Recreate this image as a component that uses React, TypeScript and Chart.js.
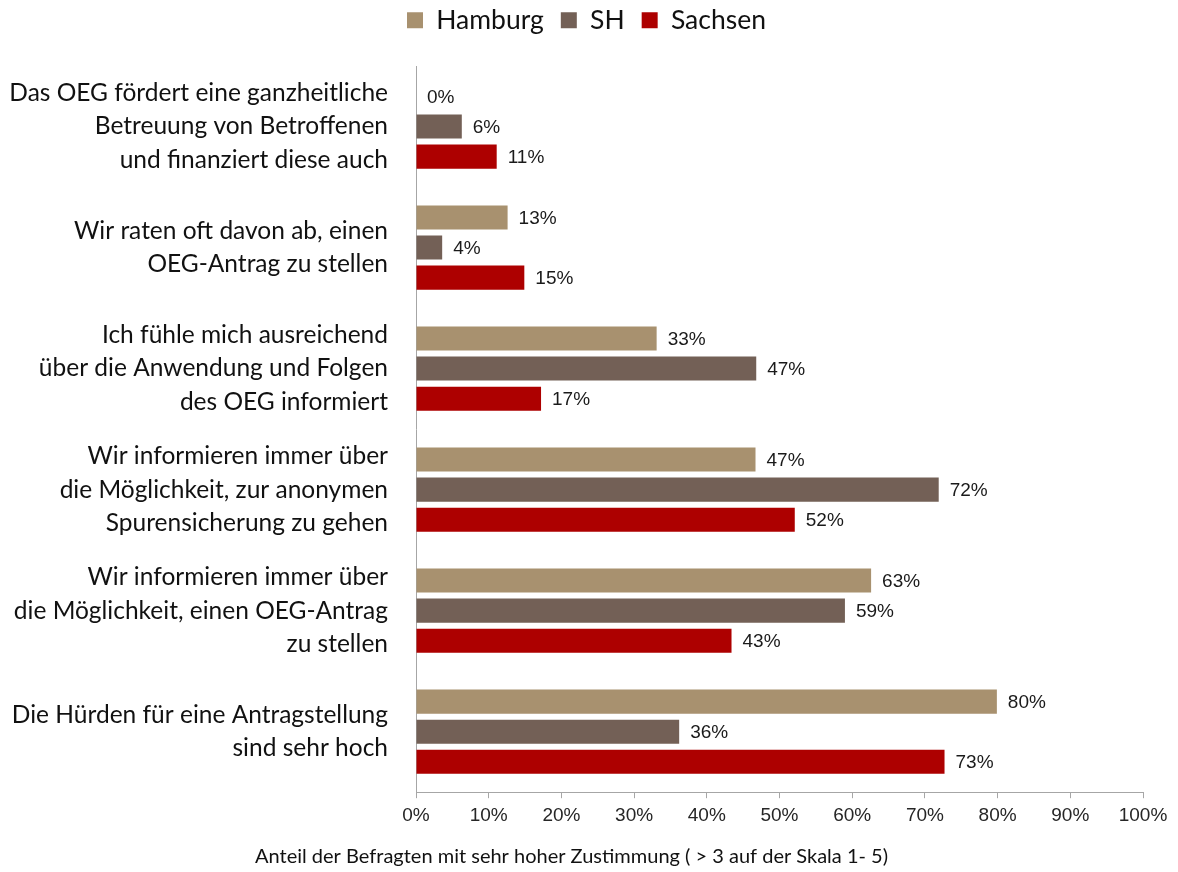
import React, { useEffect, useRef } from "react";
import { Chart, registerables } from "chart.js";

Chart.register(...registerables);

const categories: string[][] = [
  ["Das OEG fördert eine ganzheitliche", "Betreuung von Betroffenen", "und finanziert diese auch"],
  ["Wir raten oft davon ab, einen", "OEG-Antrag zu stellen"],
  ["Ich fühle mich ausreichend", "über die Anwendung und Folgen", "des OEG informiert"],
  ["Wir informieren immer über", "die Möglichkeit, zur anonymen", "Spurensicherung zu gehen"],
  ["Wir informieren immer über", "die Möglichkeit, einen OEG-Antrag", "zu stellen"],
  ["Die Hürden für eine Antragstellung", "sind sehr hoch"],
];

const seriesNames = ["Hamburg", "SH", "Sachsen"];
const hamburg = [0, 12.6, 33.1, 46.7, 62.6, 79.9];
const sh = [6.3, 3.6, 46.8, 71.9, 59.0, 36.2];
const sachsen = [11.1, 14.9, 17.2, 52.1, 43.4, 72.7];
const seriesColors = ["#A8916F", "#736056", "#AD0000"];

const xMin = 0;
const xMax = 100;
const xStep = 10;
const xTitle = "Anteil der Befragten mit sehr hoher Zustimmung ( > 3 auf der Skala 1- 5)";

const LABEL_FONT = "Lato, 'Open Sans', sans-serif";
const NUM_FONT = "'Liberation Sans', Arial, sans-serif";

const valueLabels = {
  id: "valueLabels",
  afterDatasetsDraw(chart: any) {
    const ctx = chart.ctx;
    ctx.save();
    ctx.font = `19px ${NUM_FONT}`;
    ctx.fillStyle = "#1a1a1a";
    ctx.textAlign = "left";
    ctx.textBaseline = "middle";
    chart.data.datasets.forEach((ds: any, i: number) => {
      const meta = chart.getDatasetMeta(i);
      meta.data.forEach((bar: any, j: number) => {
        const v = ds.data[j] as number;
        ctx.fillText(`${Math.round(v)}%`, bar.x + 11, bar.y + 1);
      });
    });
    ctx.restore();
  },
};

const legendTweak = {
  id: "legendTweak",
  beforeInit(chart: any) {
    const lg = chart.legend;
    if (!lg) return;
    const orig = lg.fit;
    lg.fit = function () {
      orig.call(this);
      this.height += 22.5;
    };
  },
  afterLayout(chart: any) {
    const lg = chart.legend;
    if (!lg) return;
    lg.left += 15;
    lg.right += 15;
  },
};

export default function App() {
  const ref = useRef<HTMLCanvasElement | null>(null);

  useEffect(() => {
    if (!ref.current) return;
    const chart = new Chart(ref.current, {
      type: "bar",
      data: {
        labels: categories as any,
        datasets: [
          { label: seriesNames[0], data: hamburg, backgroundColor: seriesColors[0] },
          { label: seriesNames[1], data: sh, backgroundColor: seriesColors[1] },
          { label: seriesNames[2], data: sachsen, backgroundColor: seriesColors[2] },
        ],
      },
      options: {
        indexAxis: "y",
        responsive: false,
        animation: false,
        devicePixelRatio: 1,
        datasets: { bar: { barPercentage: 0.8, categoryPercentage: 0.746 } } as any,
        layout: { padding: { top: -10, right: 35, bottom: 0, left: 0 } },
        plugins: {
          tooltip: { enabled: false },
          legend: {
            position: "top",
            align: "center",
            labels: {
              boxWidth: 16,
              boxHeight: 16,
              padding: 17,
              color: "#111",
              font: { family: LABEL_FONT, size: 26.5 },
            },
          },
          title: {
            display: true,
            position: "bottom",
            text: xTitle,
            color: "#111",
            font: { family: LABEL_FONT, size: 20, weight: "normal" },
            padding: { top: 12, bottom: 3 },
          },
        },
        scales: {
          x: {
            type: "linear",
            min: xMin,
            max: xMax,
            ticks: {
              stepSize: xStep,
              callback: (v: any) => `${v}%`,
              font: { family: NUM_FONT, size: 19 },
              color: "#262626",
              padding: 6,
              maxRotation: 0,
            },
            grid: {
              display: true,
              drawOnChartArea: false,
              drawTicks: true,
              tickLength: 6,
              color: "#A6A6A6",
            },
            border: { display: true, color: "#A6A6A6", width: 1 },
          },
          y: {
            type: "category",
            ticks: {
              font: { family: LABEL_FONT, size: 24.5, lineHeight: 1.38 },
              color: "#111",
              padding: 28,
              labelOffset: 0,
              autoSkip: false,
            },
            grid: { display: false, drawTicks: false },
            border: { display: true, color: "#A6A6A6", width: 1 },
            afterFit: (s: any) => {
              s.width = 416;
            },
          },
        },
      },
      plugins: [valueLabels, legendTweak],
    });
    return () => chart.destroy();
  }, []);

  return (
    <div style={{ position: "absolute", left: 0, top: 0, width: 1178, height: 872, background: "#fff" }}>
      <canvas ref={ref} width={1178} height={872} style={{ display: "block" }} />
    </div>
  );
}
